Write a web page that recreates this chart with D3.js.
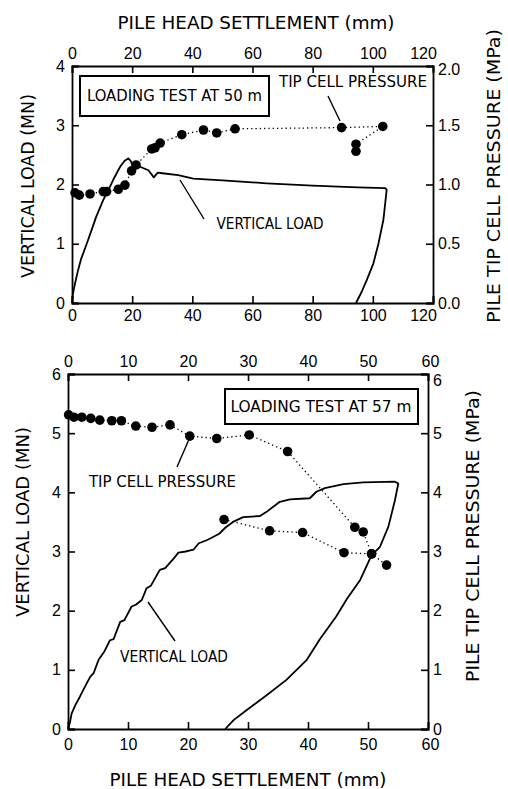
<!DOCTYPE html>
<html>
<head>
<meta charset="utf-8">
<script src="https://cdn.jsdelivr.net/npm/d3@7"></script>
<style>
  body { margin: 0; background: #fff; }
  svg { font-family: "Liberation Sans Narrow", "DejaVu Sans Condensed", "Liberation Sans", Arial, sans-serif; }
</style>
</head>
<body>
<svg width="508" height="789"></svg>
<script>
// ---- data: test at 50 m (settlement mm, load MN / pressure MPa)
var load50 = [[0,0],[0.3,0.15],[1,0.33],[2,0.55],[3,0.74],[4.9,1.0],[6.5,1.23],[8,1.45],[10.4,1.74],
  [12.6,1.96],[13.7,2.08],[16,2.3],[17.5,2.4],[18.7,2.44],[19.5,2.4],[20.3,2.3],[21.3,2.28],[22.6,2.3],
  [25.4,2.24],[27.2,2.12],[28.5,2.2],[30,2.19],[35.3,2.16],[40.3,2.1],[50,2.07],[64.7,2.02],[80,1.98],
  [95,1.95],[104.1,1.94],[104.6,1.91],[103.5,1.4],[101.9,1.01],[100.2,0.67],[98,0.39],[96.3,0.19],[94.4,0]];
var tip50 = [[1.0,0.93],[2.4,0.91],[6.0,0.92],[10.4,0.94],[11.5,0.94],[15.4,0.96],[17.6,0.995],
  [19.8,1.115],[21.3,1.165],[26.5,1.30],[27.6,1.31],[29.3,1.35],[36.5,1.42],[43.7,1.46],[48.1,1.435],
  [54.2,1.47],[89.6,1.48],[103.3,1.49],[94.4,1.34],[94.4,1.28]];

// ---- data: test at 57 m
var load57 = [[0,0],[0.3,0.1],[0.6,0.26],[1.2,0.4],[2,0.55],[3,0.75],[3.7,0.88],[4.3,0.95],[5.1,1.17],
  [6,1.3],[7,1.5],[7.6,1.52],[8.7,1.81],[9.4,1.84],[10.6,2.07],[11.3,2.1],[12.3,2.18],[13.1,2.38],
  [13.8,2.42],[15.3,2.69],[16.2,2.72],[17.6,2.88],[18.4,2.98],[19.6,3.0],[20.9,3.03],[21.8,3.14],
  [23.1,3.19],[23.7,3.22],[25.2,3.3],[26.3,3.41],[27.5,3.5],[29.2,3.58],[32,3.6],[33.1,3.67],[35.3,3.84],
  [37,3.88],[40.3,3.9],[41.4,4.01],[42.8,4.07],[45.9,4.14],[49.2,4.17],[54.5,4.18],[55.05,4.15],
  [54.5,3.87],[53.4,3.42],[52,3.08],[50.6,2.94],[48.7,2.52],[46.5,2.2],[44.7,1.9],[42,1.52],[39.8,1.17],
  [36.4,0.83],[33.1,0.57],[29.8,0.32],[27.6,0.15],[26.2,0]];
var tip57a = [[0.1,5.31],[1.0,5.27],[2.3,5.27],[3.8,5.25],[5.3,5.22],[7.3,5.21],[8.9,5.21],[11.3,5.12],
  [14.0,5.10],[17.0,5.14],[20.3,4.95],[24.8,4.91],[30.2,4.97],[36.6,4.69],[47.8,3.41],[49.2,3.33],
  [50.6,2.96],[53.1,2.77]];
var tip57b = [[26.0,3.54],[33.6,3.35],[39.1,3.32],[46.0,2.98],[50.6,2.96]];

// ---- axis ticks
var xTicks50 = [0,20,40,60,80,100,120];
var yTicks50 = [0,1,2,3,4];
var pTicks50 = [0,0.5,1.0,1.5,2.0];
var xTicks57 = [0,10,20,30,40,50,60];
var yTicks57 = [0,1,2,3,4,5,6];
var pTicks57 = [0,1,2,3,4,5,6];

var svg = d3.select('svg');

function text(x, y, s, size, len, rot) {
  var t = svg.append('text')
    .attr('x', x).attr('y', y)
    .attr('text-anchor', 'middle')
    .attr('dominant-baseline', 'central')
    .attr('font-size', size)
    .attr('textLength', len)
    .attr('lengthAdjust', 'spacingAndGlyphs')
    .text(s);
  if (rot) t.attr('transform', 'rotate(' + rot + ',' + x + ',' + y + ')');
  return t;
}

function panel(p) {
  var x = d3.scaleLinear().domain(p.xDomain).range([p.left, p.right]);
  var y = d3.scaleLinear().domain(p.yDomain).range([p.bottom, p.top]);
  var yp = d3.scaleLinear().domain(p.pDomain).range([p.bottom, p.top]);
  var g = svg.append('g');

  // axes, ticks pointing inward
  var bx = g.append('g').attr('transform', 'translate(0,' + p.bottom + ')')
    .call(d3.axisBottom(x).tickValues(p.xTicks).tickSize(-7).tickPadding(p.padBottom).tickFormat(d3.format('d')));
  var tx = g.append('g').attr('transform', 'translate(0,' + p.top + ')')
    .call(d3.axisTop(x).tickValues(p.xTicks).tickSize(-7).tickPadding(7).tickFormat(d3.format('d')));
  g.append('g').attr('transform', 'translate(' + p.left + ',0)')
    .call(d3.axisLeft(y).tickValues(p.yTicks).tickSize(-7).tickPadding(7).tickFormat(d3.format('d')));
  var ry = g.append('g').attr('transform', 'translate(' + p.right + ',0)')
    .call(d3.axisRight(yp).tickValues(p.pTicks).tickSize(-7).tickPadding(5).tickFormat(d3.format(p.pFormat)));

  g.selectAll('.domain').attr('stroke-width', 1.8);
  g.selectAll('.tick line').attr('stroke-width', 1.6);
  g.selectAll('.tick text').attr('font-size', 16).attr('fill', '#000')
    .attr('font-family', '"Liberation Sans", Arial, sans-serif');

  // corner labels nudged apart as in the original
  bx.selectAll('.tick text').filter(function(d, i, n) { return i === n.length - 1; }).attr('dx', p.lastShift);
  tx.selectAll('.tick text').filter(function(d, i, n) { return i === n.length - 1; }).attr('dx', p.lastShift);
  ry.selectAll('.tick text').filter(function(d, i, n) { return i === n.length - 1; }).attr('dy', '0.32em')
    .attr('transform', 'translate(0,' + p.cornerDrop + ')');

  var line = d3.line().x(function(d) { return x(d[0]); }).y(function(d) { return y(d[1]); });
  var pline = d3.line().x(function(d) { return x(d[0]); }).y(function(d) { return yp(d[1]); });

  g.append('path').datum(p.load).attr('d', line)
    .attr('fill', 'none').attr('stroke', '#000').attr('stroke-width', 1.8).attr('stroke-linejoin', 'round');

  p.tips.forEach(function(s) {
    g.append('path').datum(s).attr('d', pline)
      .attr('fill', 'none').attr('stroke', '#000').attr('stroke-width', 1.3).attr('stroke-dasharray', '1.3,3');
    g.selectAll(null).data(s).enter().append('circle')
      .attr('cx', function(d) { return x(d[0]); })
      .attr('cy', function(d) { return yp(d[1]); })
      .attr('r', 4.8).attr('fill', '#000');
  });
  return { x: x, y: y, yp: yp };
}

var top50 = panel({
  left: 72, right: 433, top: 66, bottom: 303,
  xDomain: [0, 120], yDomain: [0, 4], pDomain: [0, 2],
  xTicks: xTicks50, yTicks: yTicks50, pTicks: pTicks50, pFormat: '.1f',
  padBottom: 7, lastShift: -10, cornerDrop: 3, load: load50, tips: [tip50]
});

var bot57 = panel({
  left: 68, right: 428, top: 374, bottom: 729,
  xDomain: [0, 60], yDomain: [0, 6], pDomain: [0, 6],
  xTicks: xTicks57, yTicks: yTicks57, pTicks: pTicks57, pFormat: 'd',
  padBottom: 10, lastShift: 2, cornerDrop: 6, load: load57, tips: [tip57a, tip57b]
});

// axis titles
text(256, 22, 'PILE HEAD SETTLEMENT (mm)', 18, 277);
text(248, 779, 'PILE HEAD SETTLEMENT (mm)', 18, 277);
text(27, 186, 'VERTICAL LOAD (MN)', 18, 184, -90);
text(22, 522, 'VERTICAL LOAD (MN)', 18, 190, -90);
text(493, 176, 'PILE TIP CELL PRESSURE (MPa)', 18, 294, -90);
text(472, 536, 'PILE TIP CELL PRESSURE (MPa)', 18, 292, -90);

// test boxes
svg.append('rect').attr('x', 80).attr('y', 76).attr('width', 189).attr('height', 40)
  .attr('fill', '#fff').attr('stroke', '#000').attr('stroke-width', 2);
text(174.5, 96, 'LOADING TEST AT 50 m', 15, 175);
svg.append('rect').attr('x', 225).attr('y', 389).attr('width', 193).attr('height', 35)
  .attr('fill', '#fff').attr('stroke', '#000').attr('stroke-width', 2);
text(321, 407, 'LOADING TEST AT 57 m', 15, 181);

// series labels with leader lines
function leader(x1, y1, x2, y2) {
  svg.append('line').attr('x1', x1).attr('y1', y1).attr('x2', x2).attr('y2', y2)
    .attr('stroke', '#000').attr('stroke-width', 1.4);
}
text(353, 82, 'TIP CELL PRESSURE', 15, 148);
leader(328, 96, 340, 121);
text(270, 224, 'VERTICAL LOAD', 15, 107);
leader(180, 180, 204, 219);
text(162.5, 482, 'TIP CELL PRESSURE', 15, 147);
leader(177, 467, 190, 437);
text(174, 657, 'VERTICAL LOAD', 15, 108);
leader(148, 602, 175, 641);
</script>
</body>
</html>
